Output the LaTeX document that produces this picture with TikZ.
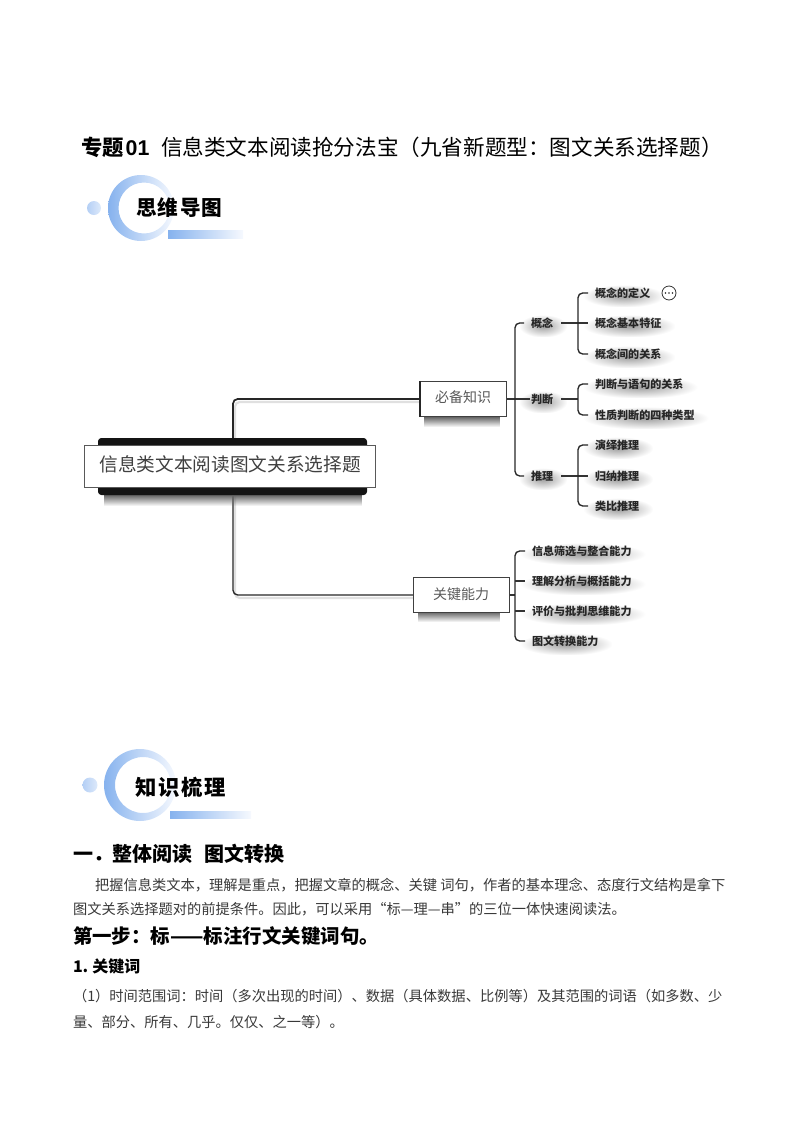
\documentclass[tikz,border=0pt]{standalone}
\usepackage{fontspec}
\setmainfont{Noto Sans CJK SC}
\newfontfamily\latfont{Liberation Sans}
\usetikzlibrary{fadings,backgrounds}
\definecolor{ringblue}{HTML}{86B2EE}
\definecolor{ringpale}{HTML}{F6F9FE}
\definecolor{dotblue}{HTML}{B4CFF5}
\tikzfading[name=softblob, inner color=transparent!62, outer color=transparent!100]
\tikzset{
  x=0.75pt,y=-0.75pt,
  every node/.style={inner sep=0pt,outer sep=0pt,anchor=west},
  body/.style={font=\fontsize{10.69}{13}\selectfont,text=black!78},
  leaf/.style={font=\fontsize{8.3}{10}\selectfont\bfseries,text=black!85},
  softfill/.style={fill=black,path fading=softblob},
  boxshadow/.style={fill=black!60,path fading=south},
  midbox/.style={draw=black!75,line width=0.7pt,fill=white,anchor=center,minimum height=26.5pt,text=black!65,
     font=\fontsize{10.5}{13}\selectfont},
  conn/.style={draw=black!85,line width=1pt,rounded corners=3.5pt},
  thin conn/.style={draw=black!80,line width=0.8pt},
  halo/.style={draw=black!12,line width=1.6pt,rounded corners=3.5pt},
}
\begin{document}
\begin{tikzpicture}
\useasboundingbox (0,0) rectangle (800,1132);

% title
\node (t1) at (81,147) {\fontsize{16}{18}\selectfont\bfseries 专题\hspace{1.5pt}{\latfont 01}};
\node (t2) at (161,147) {\fontsize{16.2}{18}\selectfont 信息类文本阅读抢分法宝（九省新题型：图文关系选择题）};

% header 1
\shade[even odd rule,left color=ringblue,right color=ringpale]
  (141,208) circle[radius=33] (144,208) circle[radius=25.5];
\shade[left color=dotblue,right color=dotblue!45] (94,208) circle[radius=7];
\shade[left color=ringblue,right color=ringpale] (168,230) rectangle (243,238);
\node (h1) at (136,208) {\fontsize{15.5}{18}\selectfont\bfseries 思\hspace{1pt}维\hspace{1pt}导\hspace{1pt}图};

% mind map nodes
\fill[boxshadow] (104,495) rectangle (362,506);
\fill[black!92,rounded corners=2.5pt] (98,438) rectangle (367,495);
\node[draw=black!65,line width=0.6pt,fill=white,anchor=center,minimum width=218pt,minimum height=31.5pt,text=black!75,font=\fontsize{14}{18}\selectfont] (root) at (230.2,466) {\raisebox{3pt}{信息类文本阅读图文关系选择题}\hspace{4.8pt}};
\fill[boxshadow] (424,417) rectangle (500,427);
\node[midbox,minimum width=64.5pt] (know) at (463,399) {\raisebox{3pt}{必备知识}\hspace{6pt}};
\fill[boxshadow] (418,612) rectangle (500,622);
\node[midbox,minimum width=72pt] (key) at (461,595) {\raisebox{2pt}{关键能力}\hspace{16.5pt}};

\node[leaf] (gn) at (531,323) {概念};
\node[leaf] (pd) at (531,399) {判断};
\node[leaf] (tl) at (531,476) {推理};

\node[leaf] (g1) at (595,293) {概念的定义};
\node[leaf] (g2) at (595,323) {概念基本特征};
\node[leaf] (g3) at (595,354) {概念间的关系};
\node[draw=black!80,line width=0.6pt,circle,minimum size=10.5pt,anchor=center] (more) at (669,293) {};
\fill[black!85] (665.5,293) circle[radius=0.9] (669,293) circle[radius=0.9] (672.5,293) circle[radius=0.9];

\node[leaf] (p1) at (595,384) {判断与语句的关系};
\node[leaf] (p2) at (595,415) {性质判断的四种类型};

\node[leaf] (r1) at (595,445) {演绎推理};
\node[leaf] (r2) at (595,476) {归纳推理};
\node[leaf] (r3) at (595,506) {类比推理};

\node[leaf] (k1) at (532,551) {信息筛选与整合能力};
\node[leaf] (k2) at (532,581) {理解分析与概括能力};
\node[leaf] (k3) at (532,611) {评价与批判思维能力};
\node[leaf] (k4) at (532,641) {图文转换能力};

\coordinate (trunk) at (233,466);

\begin{pgfonlayer}{background}
  % soft shadows behind the small labels
  \foreach \n in {gn,pd,tl,g1,g2,g3,p1,p2,r1,r2,r3,k1,k2,k3,k4}{
    \fill[softfill] ([shift={(-12,9)}]\n.south west) rectangle ([shift={(14,-3)}]\n.north east);
  }
  % soft halos of the connectors
  \path[halo] (235,470) |- ([shift={(0,3)}]know.west);
  \path[halo] (235,470) |- ([shift={(0,3)}]key.west);
  % trunk
  \draw[conn,line width=1.3pt] (trunk) |- (know.west);
  \draw[conn] (trunk) |- (key.west);
  % knowledge brackets
  \draw[thin conn] (know.east) -- ([shift={(-1,0)}]pd.west);
  \draw[conn] ([shift={(-7,0)}]gn.west) -| (515,399) |- ([shift={(-7,0)}]tl.west);
  % concept
  \draw[thin conn] ([shift={(8,0)}]gn.east) -- ([shift={(-7,0)}]g2.west);
  \draw[conn] ([shift={(-7,0)}]g1.west) -| (578,354) -- ([shift={(-7,0)}]g3.west);
  % judgement
  \draw[thin conn] ([shift={(8,0)}]pd.east) -- (578,399);
  \draw[conn] ([shift={(-7,0)}]p1.west) -| (578,415) -- ([shift={(-7,0)}]p2.west);
  % reasoning
  \draw[thin conn] ([shift={(8,0)}]tl.east) -- ([shift={(-7,0)}]r2.west);
  \draw[conn] ([shift={(-7,0)}]r1.west) -| (578,506) -- ([shift={(-7,0)}]r3.west);
  % key abilities
  \draw[thin conn] (key.east) -- (515,595);
  \draw[conn] ([shift={(-7,0)}]k1.west) -| (515,641) -- ([shift={(-7,0)}]k4.west);
  \draw[thin conn] (515,581) -- ([shift={(-7,0)}]k2.west);
  \draw[thin conn] (515,611) -- ([shift={(-7,0)}]k3.west);
\end{pgfonlayer}
\draw[black!85,line width=1.6pt] (know.north west) -- (know.south west);

% header 2
\shade[even odd rule,left color=ringblue,right color=ringpale]
  (140,785) circle[radius=36] (143,785) circle[radius=28];
\shade[left color=dotblue,right color=dotblue!45] (90,785) circle[radius=7.5];
\shade[left color=ringblue,right color=ringpale] (170,811) rectangle (251,818);
\node (h2) at (135,787) {\fontsize{16}{18}\selectfont\bfseries 知\hspace{1.5pt}识\hspace{1.5pt}梳\hspace{1.5pt}理};

% text
\node (s1) at (73,854) {\fontsize{15}{18}\selectfont\bfseries 一．\hspace{-0.5pt}整体阅读\hspace{9pt}图文转换};
\node[body] (b1) at (95,885) {把握信息类文本，理解是重点，把握文章的概念、关键 词句，作者的基本理念、态度行文结构是拿下};
\node[body] (b2) at (73,909) {图文关系选择题对的前提条件。因此，可以采用“标—理—串”的三位一体快速阅读法。};
\node (s2) at (73,936) {\fontsize{14.6}{17}\selectfont\bfseries 第一步：标——标注行文关键词句。};
\node (s3) at (73,966) {\fontsize{12}{14}\selectfont\bfseries 1.\hspace{3pt}关键词};
\node[body] (b3) at (73,996) {（1）时间范围词：时间（多次出现的时间）、数据（具体数据、比例等）及其范围的词语（如多数、少};
\node[body] (b4) at (73,1022) {量、部分、所有、几乎。仅仅、之一等）。};
\end{tikzpicture}
\end{document}
